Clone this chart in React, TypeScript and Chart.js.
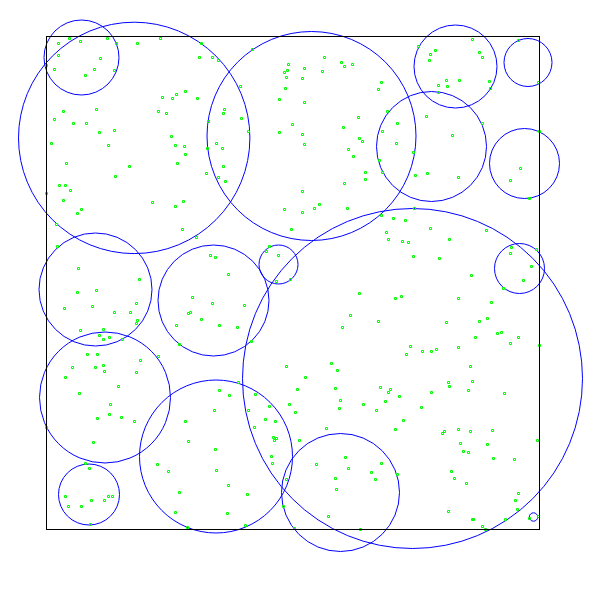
import React, { useEffect, useRef } from "react";
import { Chart, registerables } from "chart.js";

Chart.register(...registerables);

// Domain of both axes
const AXIS_MIN = 0;
const AXIS_MAX = 493;

// Circles: centre x, centre y, radius (px)
const circleX = [35, 87.7, 265, 385, 409, 481.5, 478, 366, 232, 473, 49, 58.5, 167, 169.5, 42.5, 294, 487];
const circleY = [472, 391.6, 393.5, 383, 463, 467, 366, 151, 265, 261, 240, 132, 229, 73, 35, 37, 12.5];
const circleR = [37.5, 115.7, 104.5, 55, 41.5, 24, 35, 170, 19.5, 25, 56.5, 65.5, 55.5, 76.5, 30.5, 59, 4.2];

// Sample points, grouped by region [x, y]
const ptsNW = [
  [23,491],[61,491],[114,491],[12,486],[34,488],[70,486],[91,486],[155,486],[12,474],[54,471],[153,472],[166,472],[172,469],[0,464],[8,460],[48,460],[68,459],[39,454],[194,443],[139,438],[130,435],[116,432],[126,431],[151,431],[178,420],[17,418],[50,420],[112,418],[120,416],[177,416],[8,410],[195,411],[27,406],[40,406],[162,408],[53,397],[68,399],[202,398],[125,393],[5,386],[170,386],[129,384],[138,383],[161,381],[176,381],[62,384],[139,375],[20,366],[131,366],[83,363],[177,363],[160,356],[69,353],[172,352],[179,348],[13,344],[19,344],[24,339],[0,336],[17,329],[106,327],[137,328],[129,323],[35,320],[31,316]
];
const ptsNE = [
  [206,480],[242,465],[241,459],[238,457],[240,452],[258,461],[256,451],[278,472],[295,467],[298,463],[306,465],[276,458],[239,441],[233,430],[258,427],[335,447],[332,440],[312,412],[246,405],[233,397],[256,395],[258,385],[297,402],[313,391],[316,388],[302,380],[307,373],[319,357],[319,350],[298,346],[256,338],[238,320],[256,317],[268,321],[273,325],[301,321],[341,418],[351,406],[336,398],[350,386],[367,377],[333,369],[336,357],[369,354],[381,356],[412,352],[380,413],[406,394],[436,406],[368,321],[426,490],[472,489],[372,483],[389,479],[384,475],[383,469],[433,477],[436,472],[400,449],[413,449],[392,444],[401,443],[443,448],[444,441],[392,437],[492,447],[493,398],[474,361],[464,349],[483,331]
];
const ptsW = [
  [10,305],[11,283],[136,300],[150,292],[32,261],[31,237],[50,239],[18,221],[46,223],[93,250],[90,226],[68,217],[84,217],[91,209],[90,206],[34,199],[57,200],[53,194],[57,190],[63,192],[76,190],[41,175],[51,175],[26,162],[49,162],[57,164],[58,158],[94,169],[90,157],[112,173],[164,274],[169,272],[182,255],[146,232],[166,226],[198,224],[144,217],[142,216],[155,210],[130,204],[173,204],[191,202],[133,185]
];
const ptsE = [
  [335,314],[347,311],[359,309],[245,300],[340,297],[342,290],[356,288],[362,287],[384,301],[403,290],[367,273],[393,271],[440,299],[425,254],[223,283],[220,278],[232,274],[230,248],[244,250],[465,282],[464,276],[490,280],[485,263],[477,249],[457,241],[313,236],[349,231],[355,233],[412,231],[445,227],[304,214],[296,202],[332,208],[400,207],[433,208],[441,211],[429,192],[451,196],[455,197],[472,192],[464,186],[493,184],[205,188],[364,183],[360,175],[376,178],[385,178],[390,180],[412,182],[240,163],[285,166],[291,159],[259,152],[424,163]
];
const ptsSW = [
  [19,152],[72,143],[33,136],[64,125],[63,115],[51,111],[75,112],[88,108],[47,87],[0,102],[39,66],[43,61],[19,33],[22,23],[35,23],[45,29],[58,29],[62,33],[66,33],[44,5],[192,147],[173,139],[183,134],[209,135],[168,119],[202,119],[223,123],[243,125],[139,108],[219,110],[229,108],[208,102],[227,92],[230,91],[228,89],[142,88],[169,80],[225,73],[226,66],[111,65],[122,58],[170,59],[182,44],[201,35],[133,37],[240,50],[237,23],[129,17],[181,16],[141,2],[199,4]
];
const ptsSE = [
  [251,140],[289,141],[249,117],[294,129],[293,121],[317,125],[330,119],[334,142],[344,140],[342,137],[339,128],[353,133],[357,109],[349,100],[280,101],[253,89],[375,122],[385,137],[402,147],[403,143],[426,148],[422,139],[458,136],[396,96],[398,98],[412,100],[424,98],[446,99],[414,86],[441,85],[417,78],[422,77],[447,71],[468,70],[491,89],[405,58],[408,51],[420,46],[270,65],[299,72],[302,61],[289,51],[290,40],[325,57],[335,66],[329,50],[351,55],[282,13],[248,1],[314,0],[402,18],[426,10],[427,10],[436,3],[439,0],[459,10],[472,36],[469,29],[471,20],[483,11],[492,13]
];

const borderPlugin = {
  id: "frameBox",
  afterDatasetsDraw(chart: any) {
    const { ctx, chartArea } = chart;
    ctx.save();
    ctx.strokeStyle = "#000000";
    ctx.lineWidth = 1;
    const l = Math.floor(chartArea.left) + 0.5;
    const t = Math.floor(chartArea.top) + 0.5;
    const r = Math.floor(chartArea.right) + 0.5;
    const b = Math.floor(chartArea.bottom) + 0.5;
    ctx.strokeRect(l, t, r - l, b - t);
    ctx.restore();
  },
};

export default function App() {
  const ref = useRef<HTMLCanvasElement | null>(null);

  useEffect(() => {
    if (!ref.current) return;
    const allPts = [...ptsNW, ...ptsNE, ...ptsW, ...ptsE, ...ptsSW, ...ptsSE].map(([x, y]) => ({ x, y }));
    const bubbles = circleX.map((x, i) => ({ x, y: circleY[i], r: circleR[i] }));

    const chart = new Chart(ref.current, {
      type: "scatter",
      data: {
        datasets: [
          {
            type: "scatter",
            data: allPts,
            pointStyle: "rect",
            pointRadius: 1.42,
            pointBorderWidth: 1,
            pointBorderColor: "#00ff00",
            pointBackgroundColor: "rgba(255,255,255,0)",
            clip: false,
          } as any,
          {
            type: "bubble",
            data: bubbles,
            borderColor: "#0000ff",
            backgroundColor: "rgba(0,0,0,0)",
            borderWidth: 1,
            clip: false,
          } as any,
        ],
      },
      options: {
        responsive: false,
        animation: false,
        events: [],
        layout: { autoPadding: false, padding: { left: 46.5, top: 36.5, right: 60.5, bottom: 70.5 } },
        scales: {
          x: { type: "linear", min: AXIS_MIN, max: AXIS_MAX, display: false },
          y: { type: "linear", min: AXIS_MIN, max: AXIS_MAX, display: false },
        },
        plugins: {
          legend: { display: false },
          tooltip: { enabled: false },
        },
      },
      plugins: [borderPlugin],
    });
    return () => chart.destroy();
  }, []);

  return (
    <div style={{ position: "absolute", left: 0, top: 0, width: 600, height: 600, background: "#fff" }}>
      <canvas ref={ref} width={600} height={600} style={{ display: "block" }} />
    </div>
  );
}
